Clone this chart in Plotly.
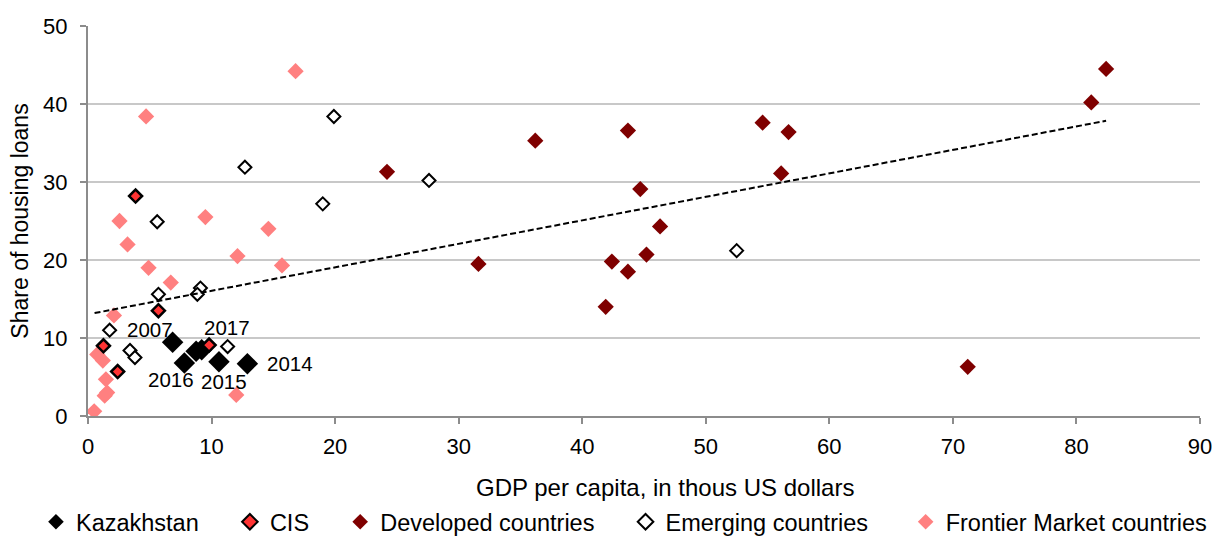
import plotly.graph_objects as go

# GDP per capita (thous US$) and share of housing loans (%), by group
kz_gdp = [6.85, 8.75, 9.2, 12.9, 10.6, 7.8]
kz_share = [9.45, 8.3, 8.5, 6.7, 6.95, 6.8]
kz_labels = ["2007", "", "2017", "2014", "2015", "2016"]

cis_gdp = [3.85, 5.7, 1.25, 2.4, 9.8]
cis_share = [28.2, 13.5, 9.0, 5.7, 9.1]

dev_gdp = [82.4, 81.2, 71.2, 36.2, 43.7, 24.2, 44.7, 54.6, 56.7, 56.1,
           46.3, 31.6, 42.4, 45.2, 43.7, 41.9]
dev_share = [44.5, 40.2, 6.3, 35.3, 36.6, 31.3, 29.1, 37.6, 36.4, 31.1,
             24.3, 19.5, 19.8, 20.7, 18.5, 14.0]

emg_gdp = [19.9, 12.7, 19.0, 27.6, 5.6, 52.5, 5.7, 9.1, 8.85, 1.75,
           11.3, 3.4, 3.8]
emg_share = [38.4, 31.9, 27.2, 30.2, 24.9, 21.2, 15.6, 16.4, 15.6, 11.0,
             8.9, 8.4, 7.5]

fm_gdp = [16.8, 4.7, 2.55, 9.5, 3.2, 14.6, 4.9, 6.7, 12.1, 15.7, 2.1,
          0.75, 1.2, 1.45, 1.55, 1.35, 0.5, 12.0]
fm_share = [44.2, 38.4, 25.0, 25.5, 22.0, 24.0, 19.0, 17.1, 20.5, 19.3,
            12.9, 7.9, 7.1, 4.7, 3.0, 2.6, 0.6, 2.7]

# Linear trend over all countries (end points)
trend_gdp = [0.53, 82.4]
trend_share = [13.2, 37.85]

FONT = "Liberation Sans, Arial, sans-serif"
NB = "\u00a0"  # keeps legend entries spaced apart


def legend_name(text, pad):
    return text + NB * pad


fig = go.Figure()

fig.add_trace(go.Scatter(
    x=fm_gdp, y=fm_share, mode="markers",
    name="Frontier Market countries", legendrank=5,
    marker=dict(symbol="diamond", size=12.5, color="#FF8080",
                line=dict(width=0))))
fig.add_trace(go.Scatter(
    x=dev_gdp, y=dev_share, mode="markers",
    name=legend_name("Developed countries", 4), legendrank=3,
    marker=dict(symbol="diamond", size=12.5, color="#7F0000",
                line=dict(width=0))))
fig.add_trace(go.Scatter(
    x=emg_gdp, y=emg_share, mode="markers",
    name=legend_name("Emerging countries", 5), legendrank=4,
    marker=dict(symbol="diamond", size=10, color="white",
                line=dict(width=2, color="black"))))
fig.add_trace(go.Scatter(
    x=kz_gdp, y=kz_share, mode="markers",
    name=legend_name("Kazakhstan", 4), legendrank=1,
    marker=dict(symbol="diamond", size=16.5, color="black",
                line=dict(width=0))))
fig.add_trace(go.Scatter(
    x=cis_gdp, y=cis_share, mode="markers",
    name=legend_name("CIS", 4), legendrank=2,
    marker=dict(symbol="diamond", size=10, color="#FF3333",
                line=dict(width=2.5, color="black"))))
fig.add_trace(go.Scatter(
    x=trend_gdp, y=trend_share, mode="lines", showlegend=False,
    line=dict(color="black", width=2, dash="6px,3px"), hoverinfo="skip"))

# Year labels next to the Kazakhstan points
label_shift = {"2007": (-23, 13), "2017": (25, 22), "2014": (43, 0),
               "2015": (5, -20), "2016": (-13, -17)}
for gx, sy, lab in zip(kz_gdp, kz_share, kz_labels):
    if not lab:
        continue
    dx, dy = label_shift[lab]
    fig.add_annotation(x=gx, y=sy, text=lab, showarrow=False,
                       xshift=dx, yshift=dy,
                       font=dict(family=FONT, size=20.5, color="black"))

# X-axis title, set slightly right of the plot centre
fig.add_annotation(xref="paper", yref="paper", x=0.519, y=-0.1846,
                   xanchor="center", yanchor="middle", showarrow=False,
                   text="GDP per capita, in thous US dollars",
                   font=dict(family=FONT, size=24, color="black"))

fig.update_layout(
    width=1215, height=539,
    margin=dict(l=88, r=15, t=26, b=123, autoexpand=False),
    paper_bgcolor="white", plot_bgcolor="white",
    font=dict(family=FONT, size=22, color="black"),
    showlegend=True,
    legend=dict(orientation="h", x=-0.0468, xanchor="left", y=-0.2718,
                yanchor="middle", font=dict(family=FONT, size=23.5),
                itemsizing="constant", traceorder="normal",
                bgcolor="rgba(0,0,0,0)"),
    xaxis=dict(range=[0, 90], dtick=10, tick0=0, showgrid=False,
               zeroline=False, showline=True, linecolor="#8C8C8C",
               linewidth=2, ticks="outside", ticklen=6, tickwidth=2,
               tickcolor="#8C8C8C", ticklabelstandoff=4,
               tickfont=dict(size=22)),
    yaxis=dict(range=[0, 50], dtick=10, tick0=0, showgrid=True,
               gridcolor="#C8C8C8", gridwidth=2, zeroline=False,
               showline=True, linecolor="#8C8C8C", linewidth=2,
               ticks="outside", ticklen=6, tickwidth=2,
               tickcolor="#8C8C8C", ticklabelstandoff=8,
               tickfont=dict(size=22),
               title=dict(text="Share of housing loans", standoff=8,
                          font=dict(size=23))),
)

fig.write_html("out.html")
